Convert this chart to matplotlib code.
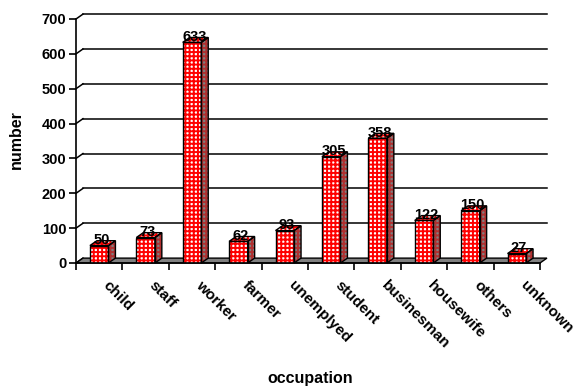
import matplotlib
matplotlib.use("Agg")
import matplotlib.pyplot as plt
import numpy as np
from matplotlib.patches import Polygon

# data
categories = ["child", "staff", "worker", "farmer", "unemplyed", "student",
              "businesman", "housewife", "others", "unknown"]
counts = [50, 73, 633, 62, 93, 305, 358, 122, 150, 27]
y_ticks = [0, 100, 200, 300, 400, 500, 600, 700]

# fake 3d depth (in data units) and bar width
DX = 0.15
DY = 14
W = 0.4

plt.rcParams["font.family"] = ["Liberation Sans", "DejaVu Sans"]
plt.rcParams["hatch.linewidth"] = 1.4

fig = plt.figure(figsize=(5.8, 3.87), dpi=100)
ax = fig.add_axes([76 / 580, 124 / 387, 464 / 580, 244 / 387])
ax.set_xlim(-0.5, len(categories) - 0.5)
ax.set_ylim(0, 700)
x = np.arange(len(categories))
x0, x1 = -0.5, len(categories) - 0.5

# back wall gridlines + little connectors from the ticks
for t in y_ticks[1:]:
    ax.plot([x0 + DX, x1 + DX], [t + DY, t + DY], color="black", lw=1.1,
            clip_on=False, zorder=1)
for t in y_ticks:
    ax.plot([x0, x0 + DX], [t, t + DY], color="black", lw=1.1,
            clip_on=False, zorder=1)

# floor
floor = Polygon([(x0, 0), (x1, 0), (x1 + DX, DY), (x0 + DX, DY)],
                closed=True, facecolor="#808080", edgecolor="black", lw=1,
                clip_on=False, zorder=2)
ax.add_patch(floor)

# front faces
ax.bar(x, counts, width=W, facecolor="white", edgecolor="red", hatch="++++",
       linewidth=0, zorder=3)
ax.bar(x, counts, width=W, fill=False, edgecolor="black", linewidth=1, zorder=4)

# side and top faces
for i, v in zip(x, counts):
    r = i + W / 2
    l = i - W / 2
    side = Polygon([(r, 0), (r + DX, DY), (r + DX, v + DY), (r, v)],
                   facecolor="#808080", edgecolor="#b03030", hatch="++++",
                   lw=0, clip_on=False, zorder=3)
    top = Polygon([(l, v), (r, v), (r + DX, v + DY), (l + DX, v + DY)],
                  facecolor="white", edgecolor="red", hatch="++++",
                  lw=0, clip_on=False, zorder=3)
    ax.add_patch(side)
    ax.add_patch(top)
    for p in (side, top):
        ax.add_patch(Polygon(p.get_xy(), fill=False, edgecolor="black",
                             lw=1, clip_on=False, zorder=4))
    ax.text(i + 0.05, v + 16, str(v), ha="center", va="center",
            fontsize=10.5, fontweight="bold", zorder=5)

for side in ["top", "right"]:
    ax.spines[side].set_visible(False)
ax.spines["left"].set_linewidth(1.2)
ax.spines["bottom"].set_linewidth(1.2)
ax.spines["bottom"].set_zorder(5)

ax.set_yticks(y_ticks)
ax.set_yticklabels([str(t) for t in y_ticks], fontsize=10.5, fontweight="bold")
ax.set_xticks(np.arange(x0, x1 + 0.01, 1))
ax.set_xticklabels([])
ax.tick_params(direction="out", length=5, width=1.2, pad=2)

for i, name in zip(x, categories):
    ax.annotate(name, xy=(i, 0), xytext=(8, -11), textcoords="offset points",
                rotation=-45, rotation_mode="anchor", ha="left", va="top",
                fontsize=11, fontweight="bold", annotation_clip=False)

fig.text(16 / 580, 1 - 140 / 387, "number", rotation=90, ha="center",
         va="center", fontsize=11.5, fontweight="bold")
fig.text(310 / 580, 1 - 378 / 387, "occupation", ha="center", va="center",
         fontsize=11.5, fontweight="bold")

fig.savefig("out.png", dpi=100)
